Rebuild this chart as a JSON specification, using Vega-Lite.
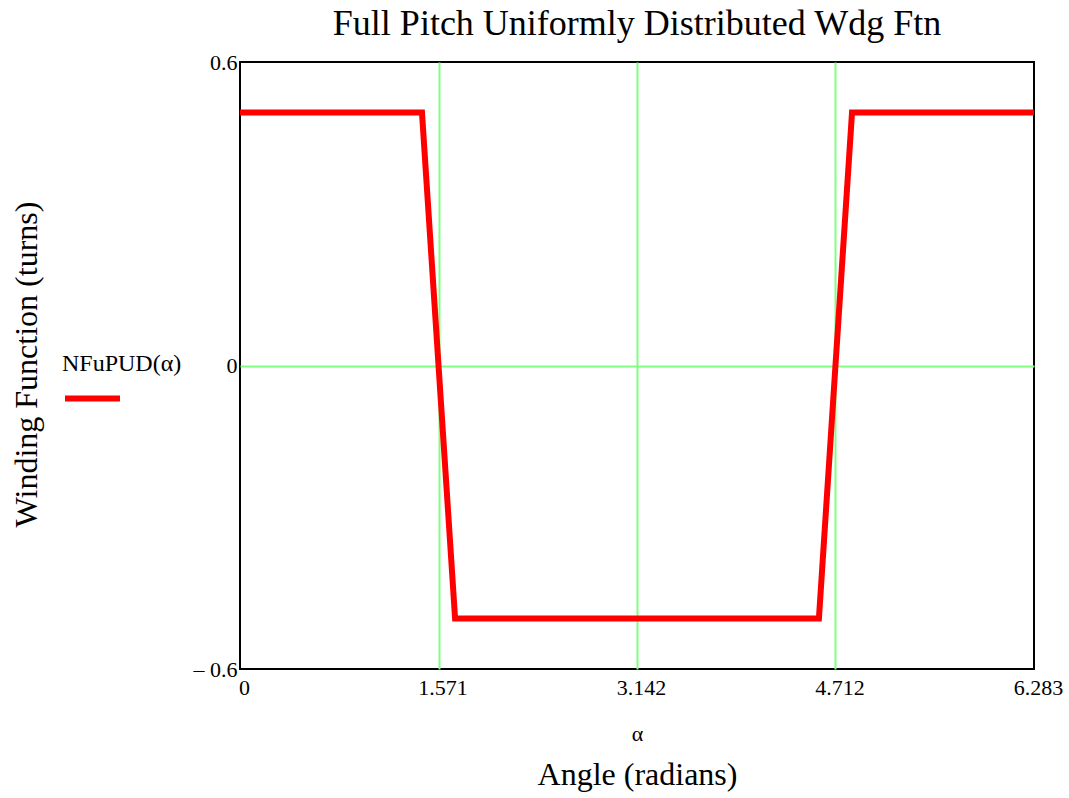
{
  "$schema": "https://vega.github.io/schema/vega-lite/v6.json",
  "width": 794,
  "height": 607,
  "autosize": {"type": "none"},
  "padding": {"left": 240, "top": 62, "right": 35, "bottom": 129},
  "background": "white",
  "title": {"text": "Full Pitch Uniformly Distributed Wdg Ftn", "font": "Liberation Serif", "fontSize": 36, "fontWeight": "normal", "color": "black", "anchor": "middle", "offset": 8},
  "data": {"values": [
    {"a": 0, "n": 0.5, "series": "NFuPUD(α)"},
    {"a": 1.44, "n": 0.5, "series": "NFuPUD(α)"},
    {"a": 1.702, "n": -0.5, "series": "NFuPUD(α)"},
    {"a": 4.581, "n": -0.5, "series": "NFuPUD(α)"},
    {"a": 4.843, "n": 0.5, "series": "NFuPUD(α)"},
    {"a": 6.283, "n": 0.5, "series": "NFuPUD(α)"}
  ]},
  "layer": [
    {
      "mark": {"type": "line", "strokeWidth": 6, "clip": false},
      "encoding": {
        "x": {"field": "a", "type": "quantitative",
          "scale": {"domain": [0, 6.283], "nice": false, "zero": false},
          "axis": {"values": [0, 1.571, 3.142, 4.712, 6.283],
            "labelExpr": "datum.value == 0 ? '0' : format(datum.value, '.3f')",
            "labelFont": "Liberation Serif", "labelFontSize": 22, "labelColor": "black",
            "labelPadding": 8, "labelFlush": false, "labelOffset": 4,
            "ticks": false, "domain": false,
            "grid": true, "gridColor": "#80ff80", "gridWidth": 2,
            "gridOpacity": {"condition": {"test": "datum.value <= 0.001 || datum.value >= 6.28", "value": 0}, "value": 1},
            "title": "α", "titleFont": "Liberation Serif", "titleFontSize": 22, "titleFontWeight": "normal", "titleColor": "black", "titlePadding": 25}},
        "y": {"field": "n", "type": "quantitative",
          "scale": {"domain": [-0.6, 0.6], "nice": false, "zero": false},
          "axis": {"values": [-0.6, 0, 0.6],
            "labelExpr": "datum.value == 0 ? '0' : (datum.value < 0 ? '\u2013 ' + format(-datum.value, '.1f') : format(datum.value, '.1f'))",
            "labelFont": "Liberation Serif", "labelFontSize": 22, "labelColor": "black",
            "labelPadding": 3, "ticks": false, "domain": false,
            "grid": true, "gridColor": "#80ff80", "gridWidth": 2,
            "gridOpacity": {"condition": {"test": "abs(datum.value) > 0.5", "value": 0}, "value": 1},
            "title": "Winding Function (turns)", "titleFont": "Liberation Serif", "titleFontSize": 32, "titleFontWeight": "normal", "titleColor": "black",
            "titleAngle": -90, "titleX": -214, "titleY": 302, "titleAlign": "center", "titleBaseline": "middle"}},
        "color": {"field": "series", "type": "nominal",
          "scale": {"range": ["#ff0000"]},
          "legend": {"orient": "none", "legendX": -178, "legendY": 290, "padding": 0,
            "title": "NFuPUD(α)", "titleFont": "Liberation Serif", "titleFontSize": 24, "titleFontWeight": "normal", "titleColor": "black", "titlePadding": -8,
            "labelExpr": "''", "symbolType": "stroke", "symbolStrokeWidth": 6, "symbolSize": 3025}}
      }
    },
    {
      "mark": {"type": "line", "strokeOpacity": 0},
      "encoding": {
        "x": {"field": "a", "type": "quantitative",
          "axis": {"orient": "bottom", "labels": false, "ticks": false, "domain": false, "grid": false,
            "title": "Angle (radians)", "titleFont": "Liberation Serif", "titleFontSize": 32, "titleFontWeight": "normal", "titleColor": "black", "titlePadding": 90}}
      }
    }
  ],
  "resolve": {"axis": {"x": "independent"}},
  "config": {"view": {"stroke": "black", "strokeWidth": 2}, "font": "Liberation Serif"}
}
